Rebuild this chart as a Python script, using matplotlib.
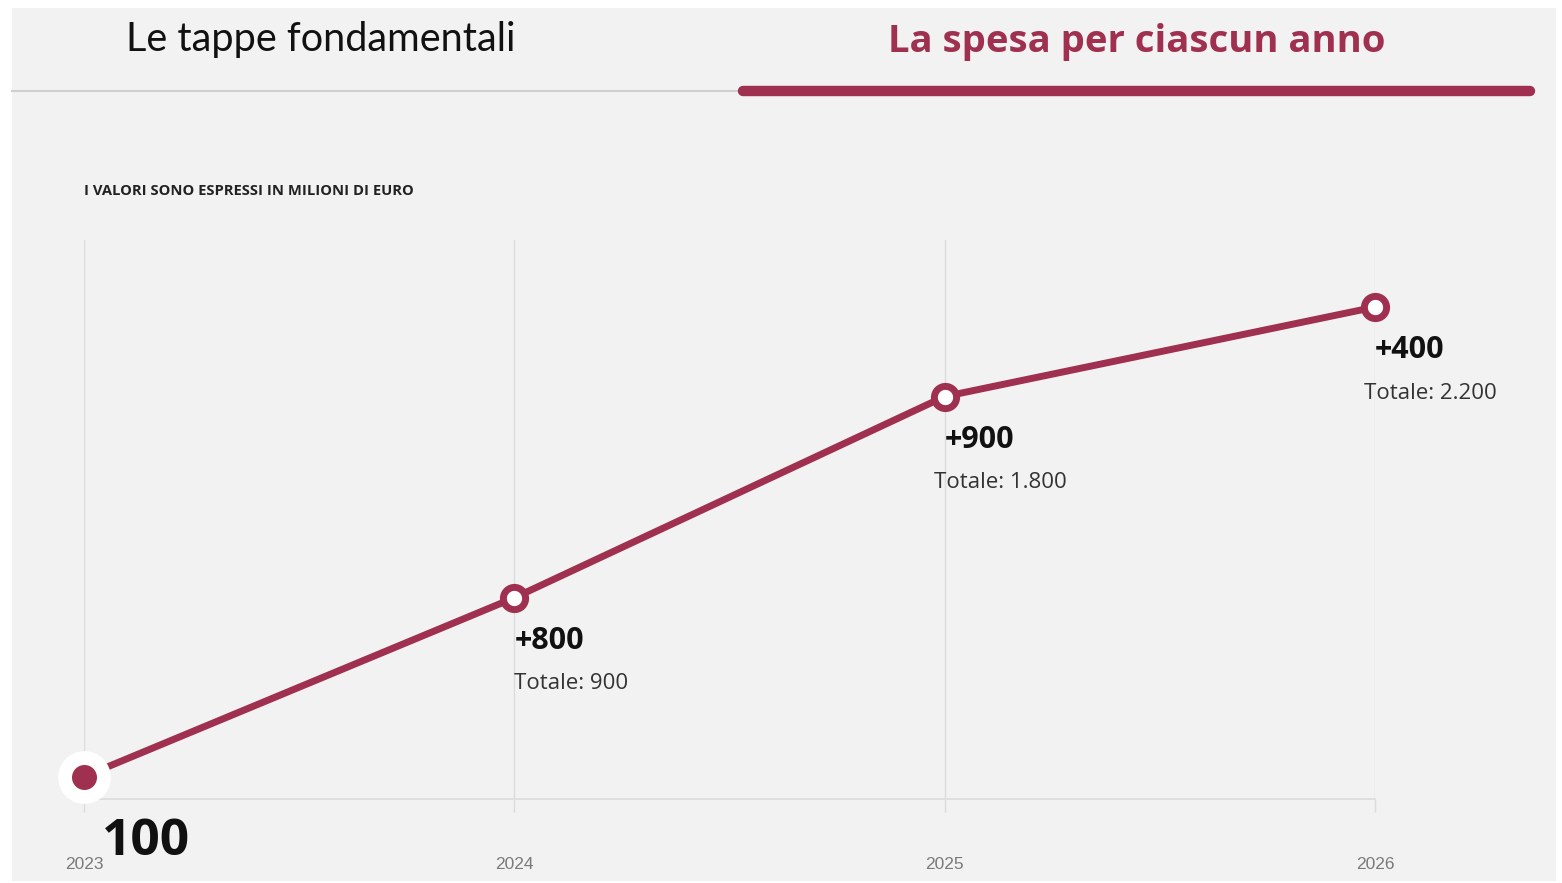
import matplotlib
matplotlib.use("Agg")
import matplotlib.pyplot as plt
from matplotlib.patches import Rectangle
from matplotlib.lines import Line2D

# Data: cumulative spending (millions of euro) per year
years = [2023, 2024, 2025, 2026]
totals = [100, 900, 1800, 2200]
increments = ["100", "+800", "+900", "+400"]
total_labels = ["", "Totale: 900", "Totale: 1.800", "Totale: 2.200"]
year_labels = ["2023", "2024", "2025", "2026"]

title_left = "Le tappe fondamentali"
title_right = "La spesa per ciascun anno"
subtitle = "I VALORI SONO ESPRESSI IN MILIONI DI EURO"

MAROON = "#a0304f"
BG = "#f2f2f2"
W, H = 1562, 883
DPI = 100

fig = plt.figure(figsize=(W / DPI, H / DPI), dpi=DPI, facecolor="white")


def fx(px):
    return px / W


def fy(py):
    return 1 - py / H


# Panel background
fig.patches.append(Rectangle((fx(12), fy(881)), fx(1556) - fx(12), fy(8) - fy(881),
                             transform=fig.transFigure, facecolor=BG, edgecolor="none",
                             zorder=-10))

# Header tabs
fig.text(fx(321), fy(40), title_left, fontsize=28.5, family="Lato", weight="normal",
         color="#111111", ha="center", va="center")
fig.text(fx(1137), fy(42), title_right, fontsize=27.5, family="Open Sans", weight="bold",
         color=MAROON, ha="center", va="center")
fig.lines.append(Line2D([fx(12), fx(740)], [fy(91), fy(91)], transform=fig.transFigure,
                        color="#cfcfcf", lw=1.5))
fig.lines.append(Line2D([fx(743), fx(1530)], [fy(91), fy(91)], transform=fig.transFigure,
                        color=MAROON, lw=7.5, solid_capstyle="round"))

fig.text(fx(84), fy(191), subtitle, fontsize=10.6, family="Open Sans", weight="bold",
         color="#222222", ha="left", va="center")

# Chart area
ax = fig.add_axes([fx(84), fy(799), fx(1375) - fx(84), fy(240) - fy(799)])
ax.set_facecolor("none")
ax.set_xlim(2023, 2026)
ax.set_ylim(0, 2500)
for s in ["top", "right", "left"]:
    ax.spines[s].set_visible(False)
ax.spines["bottom"].set_color("#dcdcdc")
ax.spines["bottom"].set_linewidth(1.2)
ax.set_yticks([])
ax.set_xticks(years)
ax.set_xticklabels(year_labels)
ax.tick_params(axis="x", length=9.5, width=1, color="#dcdcdc", pad=32,
               labelsize=12.5, labelcolor="#7a7a7a")
for lab in ax.get_xticklabels():
    lab.set_family("Liberation Sans")
ax.grid(axis="x", color="#dcdcdc", lw=1)
ax.set_axisbelow(True)

ax.plot(years, totals, color=MAROON, lw=5, zorder=3, solid_capstyle="round", clip_on=False)
ax.plot(years[1:], totals[1:], ls="none", marker="o", ms=16, mfc="white", mec=MAROON,
        mew=5, zorder=4, clip_on=False)
ax.plot(years[:1], totals[:1], ls="none", marker="o", ms=38, mfc="white", mec="none",
        zorder=4, clip_on=False)
ax.plot(years[:1], totals[:1], ls="none", marker="o", ms=18, mfc=MAROON, mec="none",
        zorder=5, clip_on=False)

# Value labels
ax.annotate(increments[0], (years[0], 0), xytext=(13, -31), textcoords="offset points",
            fontsize=37, family="Open Sans", weight="bold", color="#111111",
            ha="left", va="center", annotation_clip=False)
inc_off = [None, (0, -31), (0, -31), (0, -31)]
tot_off = [None, (0, -62), (-8, -62), (-8, -62)]
for i in range(1, len(years)):
    ax.annotate(increments[i], (years[i], totals[i]), xytext=inc_off[i],
                textcoords="offset points", fontsize=22, family="Open Sans", weight="bold",
                color="#111111", ha="left", va="center", annotation_clip=False)
    ax.annotate(total_labels[i], (years[i], totals[i]), xytext=tot_off[i],
                textcoords="offset points", fontsize=16, family="Open Sans",
                color="#333333", ha="left", va="center", annotation_clip=False)

fig.savefig("out.png", dpi=DPI, facecolor="white")
